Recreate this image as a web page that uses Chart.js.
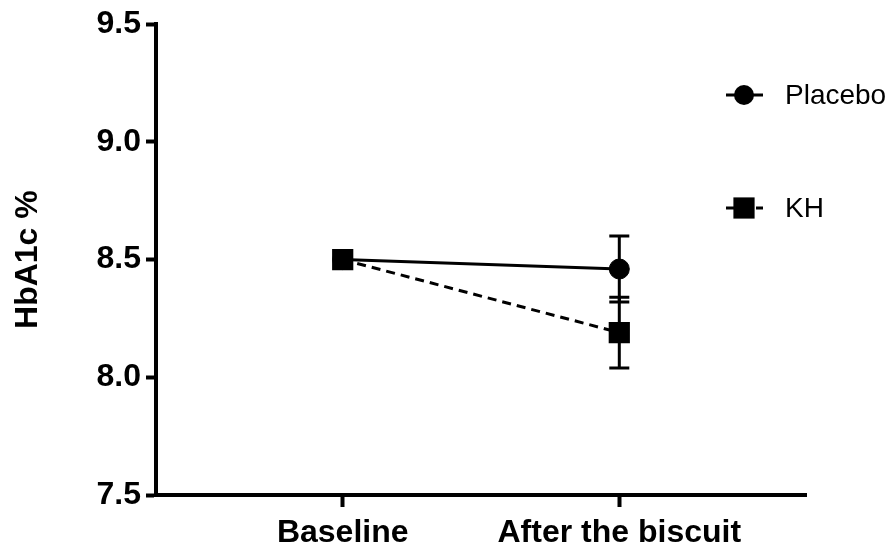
<!DOCTYPE html>
<html>
<head>
<meta charset="utf-8">
<script src="https://cdn.jsdelivr.net/npm/chart.js@4/dist/chart.umd.min.js"></script>
<style>
  html, body { margin: 0; padding: 0; background: #fff; }
</style>
</head>
<body>
<canvas id="chart" width="893" height="549"></canvas>
<script>
// data
const categories = ['Baseline', 'After the biscuit'];
const placeboMean = [8.50, 8.46];
const placeboErr = [0, 0.14];
const khMean = [8.50, 8.19];
const khErr = [0, 0.15];
const yTicks = [7.5, 8.0, 8.5, 9.0, 9.5];

const toPoints = (vals, errs) => vals.map((v, i) => ({ x: i, y: v, err: errs[i] }));

// error bars under the markers
const errorBars = {
    id: 'errorBars',
    beforeDatasetsDraw(chart) {
        const ctx = chart.ctx;
        const xs = chart.scales.x, ys = chart.scales.y;
        ctx.save();
        ctx.strokeStyle = '#000';
        ctx.lineWidth = 3;
        ctx.setLineDash([]);
        chart.data.datasets.forEach(ds => {
            ds.data.forEach(p => {
                if (!p.err) return;
                const x = xs.getPixelForValue(p.x);
                const yt = ys.getPixelForValue(p.y + p.err);
                const yb = ys.getPixelForValue(p.y - p.err);
                ctx.beginPath();
                ctx.moveTo(x, yt); ctx.lineTo(x, yb);
                ctx.moveTo(x - 10, yt); ctx.lineTo(x + 10, yt);
                ctx.moveTo(x - 10, yb); ctx.lineTo(x + 10, yb);
                ctx.stroke();
            });
        });
        ctx.restore();
    }
};

// legend like the GraphPad one: short line with marker, then label
const sideLegend = {
    id: 'sideLegend',
    afterDraw(chart) {
        const ctx = chart.ctx;
        const rows = [
            { ds: chart.data.datasets[1], y: 95 },
            { ds: chart.data.datasets[0], y: 208 }
        ];
        ctx.save();
        rows.forEach(r => {
            ctx.strokeStyle = '#000';
            ctx.fillStyle = '#000';
            ctx.lineWidth = 3;
            ctx.setLineDash(r.ds.borderDash || []);
            ctx.beginPath();
            ctx.moveTo(726, r.y); ctx.lineTo(763, r.y);
            ctx.stroke();
            ctx.setLineDash([]);
            ctx.beginPath();
            if (r.ds.pointStyle === 'circle') {
                ctx.arc(744, r.y, r.ds.pointRadius, 0, Math.PI * 2);
            } else {
                const s = r.ds.pointRadius * Math.SQRT1_2;
                ctx.rect(744 - s, r.y - s, 2 * s, 2 * s);
            }
            ctx.fill();
            ctx.font = '28px "Liberation Sans", Arial, sans-serif';
            ctx.textBaseline = 'middle';
            ctx.fillText(r.ds.label, 785, r.y + 1);
        });
        ctx.restore();
    }
};

new Chart(document.getElementById('chart'), {
    type: 'line',
    data: {
        datasets: [
            {
                label: 'KH',
                data: toPoints(khMean, khErr),
                borderColor: '#000',
                backgroundColor: '#000',
                borderWidth: 3,
                borderDash: [9, 6],
                pointStyle: 'rect',
                pointRadius: 15,
                pointBorderWidth: 0
            },
            {
                label: 'Placebo',
                data: toPoints(placeboMean, placeboErr),
                borderColor: '#000',
                backgroundColor: '#000',
                borderWidth: 3,
                pointStyle: 'circle',
                pointRadius: 10,
                pointBorderWidth: 1
            }
        ]
    },
    options: {
        responsive: false,
        animation: false,
        layout: { padding: { top: 23, right: 87, left: 0, bottom: 0 } },
        plugins: {
            legend: { display: false },
            tooltip: { enabled: false }
        },
        scales: {
            x: {
                type: 'linear',
                min: -0.675,
                max: 1.675,
                afterFit: s => { s.height = 54; },
                afterBuildTicks: s => { s.ticks = categories.map((c, i) => ({ value: i })); },
                border: { display: true, color: '#000', width: 4 },
                grid: { drawOnChartArea: false, drawTicks: true, tickLength: 12, tickWidth: 4, tickColor: '#000' },
                ticks: {
                    color: '#000',
                    padding: 7,
                    maxRotation: 0,
                    font: { family: '"Liberation Sans", Arial, sans-serif', size: 32, weight: 'bold' },
                    callback: v => categories[v]
                }
            },
            y: {
                min: 7.5,
                max: 9.5,
                afterFit: s => { s.width = 156; },
                afterBuildTicks: s => { s.ticks = yTicks.map(v => ({ value: v })); },
                border: { display: true, color: '#000', width: 4 },
                grid: { drawOnChartArea: false, drawTicks: true, tickLength: 10, tickWidth: 4, tickColor: '#000' },
                title: {
                    display: true,
                    text: 'HbA1c %',
                    color: '#000',
                    padding: { top: 9, bottom: 0 },
                    font: { family: '"Liberation Sans", Arial, sans-serif', size: 32, weight: 'bold' }
                },
                ticks: {
                    color: '#000',
                    padding: 5,
                    font: { family: '"Liberation Sans", Arial, sans-serif', size: 32, weight: 'bold' },
                    callback: v => v.toFixed(1)
                }
            }
        }
    },
    plugins: [errorBars, sideLegend]
});
</script>
</body>
</html>
